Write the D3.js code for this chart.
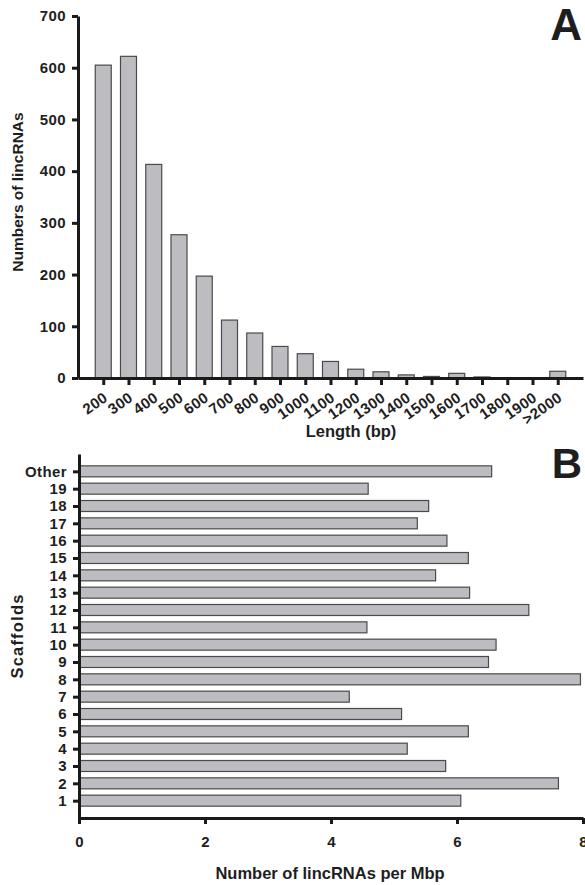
<!DOCTYPE html>
<html>
<head>
<meta charset="utf-8">
<script src="https://cdn.jsdelivr.net/npm/d3@7"></script>
<style>
  html, body { margin: 0; padding: 0; background: #fff; }
  svg { display: block; }
  text { font-family: "Liberation Sans", Arial, Helvetica, sans-serif; font-weight: bold; fill: #1e1e1e; }
</style>
</head>
<body>
<svg id="chart" width="585" height="885"></svg>
<script>
// ---- Panel A data ----
const lengthCategories = ["200","300","400","500","600","700","800","900","1000","1100","1200","1300","1400","1500","1600","1700","1800","1900",">2000"];
const lincRNACounts = [605, 622, 413, 277, 197, 112, 87, 61, 47, 32, 17, 12, 6, 3, 9, 2, 0, 0, 13];
const countTicks = [0, 100, 200, 300, 400, 500, 600, 700];

// ---- Panel B data ----
const scaffoldCategories = ["1","2","3","4","5","6","7","8","9","10","11","12","13","14","15","16","17","18","19","Other"];
const lincRNAsPerMbp = [6.06, 7.61, 5.82, 5.21, 6.18, 5.12, 4.29, 7.96, 6.50, 6.62, 4.57, 7.14, 6.20, 5.66, 6.18, 5.84, 5.37, 5.55, 4.59, 6.55];
const densityTicks = [0, 2, 4, 6, 8];

const svg = d3.select("#chart");
const barFill = "#bdbdc1";
const barStroke = "#4a4a4a";
const axisColor = "#1a1a1a";

function styleAxis(g) {
  g.select(".domain").attr("stroke", axisColor).attr("stroke-width", 3);
  g.selectAll(".tick line").attr("stroke", axisColor).attr("stroke-width", 3);
  g.selectAll(".tick text").attr("font-size", 15).attr("letter-spacing", "0.4px").attr("fill", "#1e1e1e");
}

// ================= Panel A =================
const aLeft = 78, aRight = 583, aTop = 16, aBottom = 378;
const xA = d3.scalePoint().domain(lengthCategories).range([aLeft, aRight]).padding(1);
const yA = d3.scaleLinear().domain([0, 700]).range([aBottom, aTop]);
const barWA = 16;

svg.append("g").selectAll("rect").data(lincRNACounts).join("rect")
  .attr("x", (d, i) => xA(lengthCategories[i]) - barWA / 2)
  .attr("width", barWA)
  .attr("y", d => yA(d))
  .attr("height", d => aBottom - yA(d))
  .attr("fill", barFill)
  .attr("stroke", barStroke)
  .attr("stroke-width", 1.2);

const gyA = svg.append("g").attr("transform", `translate(${aLeft},0)`)
  .call(d3.axisLeft(yA).tickValues(countTicks).tickSize(6).tickSizeOuter(0).tickPadding(6));
styleAxis(gyA);

const gxA = svg.append("g").attr("transform", `translate(0,${aBottom})`)
  .call(d3.axisBottom(xA).tickSize(7).tickSizeOuter(0));
styleAxis(gxA);
gxA.selectAll(".tick text")
  .attr("text-anchor", "end")
  .attr("x", 0).attr("y", 0).attr("dy", 0)
  .attr("transform", "translate(5,22) rotate(-35)")
  .attr("font-size", 15);

svg.append("text")
  .attr("transform", "translate(23,192) rotate(-90)")
  .attr("text-anchor", "middle")
  .attr("font-size", 15.5)
  .text("Numbers of lincRNAs");

svg.append("text")
  .attr("x", 351).attr("y", 437)
  .attr("text-anchor", "middle")
  .attr("font-size", 16.5)
  .text("Length (bp)");

svg.append("text")
  .attr("x", 582).attr("y", 40)
  .attr("text-anchor", "end")
  .attr("font-size", 44)
  .attr("fill", "#111")
  .text("A");

// ================= Panel B =================
const bLeft = 79, bRight = 583, bTop = 454, bBottom = 818;
const xB = d3.scaleLinear().domain([0, 8]).range([bLeft, bRight]);
const yB = d3.scalePoint().domain(scaffoldCategories).range([bBottom, bTop]).padding(1);
const barHB = 11;

svg.append("g").selectAll("rect").data(lincRNAsPerMbp).join("rect")
  .attr("x", bLeft)
  .attr("y", (d, i) => yB(scaffoldCategories[i]) - barHB / 2)
  .attr("height", barHB)
  .attr("width", d => xB(d) - bLeft)
  .attr("fill", barFill)
  .attr("stroke", barStroke)
  .attr("stroke-width", 1.2);

const gyB = svg.append("g").attr("transform", `translate(${bLeft},0)`)
  .call(d3.axisLeft(yB).tickSize(6).tickSizeOuter(0).tickPadding(6));
styleAxis(gyB);

const gxB = svg.append("g").attr("transform", `translate(0,${bBottom})`)
  .call(d3.axisBottom(xB).tickValues(densityTicks).tickFormat(d3.format("d")).tickSize(6).tickSizeOuter(0).tickPadding(12));
styleAxis(gxB);

svg.append("text")
  .attr("transform", "translate(23,636) rotate(-90)")
  .attr("text-anchor", "middle")
  .attr("font-size", 16.5)
  .attr("letter-spacing", "1.2px")
  .text("Scaffolds");

svg.append("text")
  .attr("x", 330).attr("y", 879)
  .attr("text-anchor", "middle")
  .attr("font-size", 16.5)
  .text("Number of lincRNAs per Mbp");

svg.append("text")
  .attr("x", 582).attr("y", 478)
  .attr("text-anchor", "end")
  .attr("font-size", 42)
  .attr("fill", "#111")
  .text("B");
</script>
</body>
</html>
